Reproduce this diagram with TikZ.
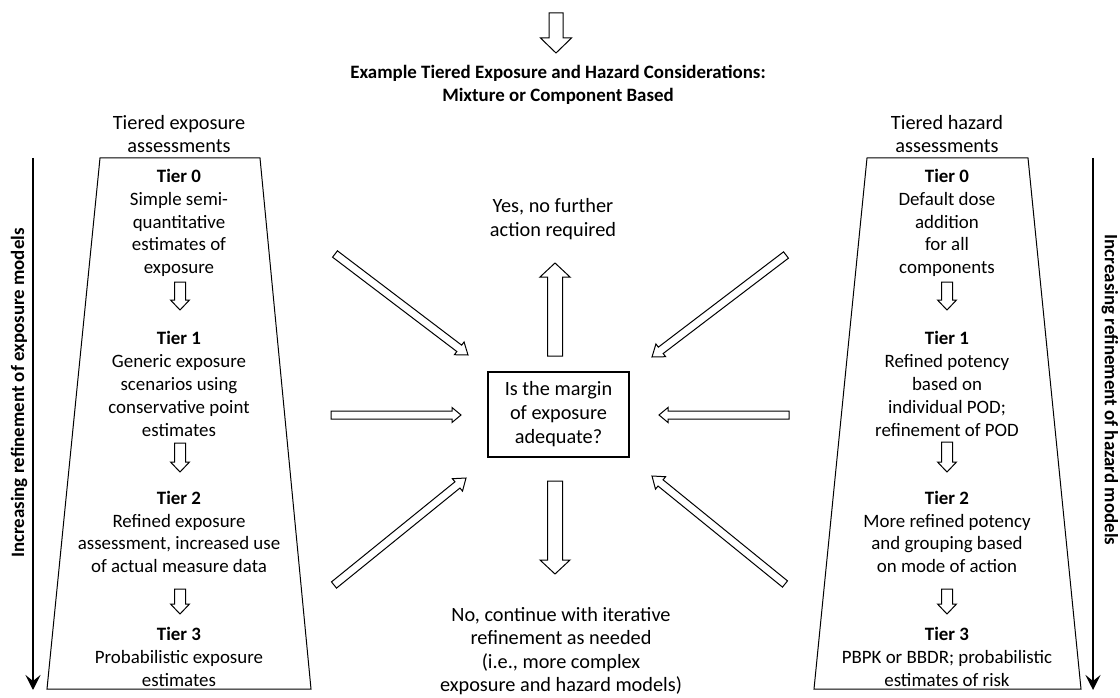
\documentclass[tikz,border=0pt]{standalone}
\usepackage{fontspec}
\setmainfont{Carlito}
\usetikzlibrary{calc,arrows.meta}
\tikzset{
  txt/.style={font=\fontsize{18.9}{22.8}\selectfont, align=center, inner sep=0pt},
  bigtxt/.style={font=\fontsize{20.3}{23.5}\selectfont, align=center, inner sep=0pt},
  ttl/.style={font=\bfseries\fontsize{18.9}{23}\selectfont, align=center, inner sep=0pt},
  sidetxt/.style={font=\bfseries\fontsize{18.9}{23}\selectfont, inner sep=0pt},
  blk/.style={draw=black, line width=1pt, fill=white, line join=miter},
  trap/.style={draw=black, line width=1pt},
  sidearrow/.style={line width=2.8pt, -{Stealth[length=15pt,width=15pt,inset=6pt]}},
  qbox/.style={draw=black, line width=1.3pt, minimum width=141pt, minimum height=85pt, inner sep=0pt, align=center, font=\fontsize{20.3}{24}\selectfont}
}
% #1 from, #2 to, #3 half shaft width, #4 half head width, #5 head length
\newcommand{\blockarrow}[5]{%
  \coordinate (hb) at ($(#2)!#5!(#1)$);
  \draw[blk] ($(#1)!#3!90:(#2)$) -- ($(hb)!#3!90:(#2)$) -- ($(hb)!#4!90:(#2)$) -- (#2)
    -- ($(hb)!#4!-90:(#2)$) -- ($(hb)!#3!-90:(#2)$) -- ($(#1)!#3!-90:(#2)$) -- cycle;
}
\begin{document}
\begin{tikzpicture}[x=1pt,y=-1pt]
\useasboundingbox (0,0) rectangle (1120,698);
\fill[white] (0,0) rectangle (1120,698);

% title and top arrow
\coordinate (t0) at (556,13);
\coordinate (t1) at (556,53);
\blockarrow{t0}{t1}{7pt}{15.5pt}{15pt}
\node[ttl] (title) at (558,84.5) {Example Tiered Exposure and Hazard Considerations:\\Mixture or Component Based};

% headings
\node[bigtxt] (lhead) at (179,134) {Tiered exposure\\assessments};
\node[bigtxt] (rhead) at (947,134) {Tiered hazard\\assessments};

% trapezoids
\coordinate (l1) at (100,158); \coordinate (l2) at (260,158);
\coordinate (l3) at (311,689); \coordinate (l4) at (47,689);
\draw[trap] (l1) -- (l2) -- (l3) -- (l4) -- cycle;
\coordinate (r1) at (867,158); \coordinate (r2) at (1028,158);
\coordinate (r3) at (1081,689); \coordinate (r4) at (814,689);
\draw[trap] (r1) -- (r2) -- (r3) -- (r4) -- cycle;

% side arrows
\coordinate (la0) at (33,158); \coordinate (la1) at (33,690);
\draw[sidearrow] (la0) -- (la1);
\coordinate (ra0) at (1093,158); \coordinate (ra1) at (1093,690);
\draw[sidearrow] (ra0) -- (ra1);
\node[sidetxt, rotate=90] (lside) at (19,393) {Increasing refinement of exposure models};
\node[sidetxt, rotate=-90] (rside) at (1110,390) {Increasing refinement of hazard models};

% left tiers
\node[txt] (le0) at (179,223) {\textbf{Tier 0}\\Simple semi-\\quantitative\\estimates of\\exposure};
\node[txt] (le1) at (179,384) {\textbf{Tier 1}\\Generic exposure\\scenarios using\\conservative point\\estimates};
\node[txt] (le2) at (179,532) {\textbf{Tier 2}\\Refined exposure\\assessment, increased use\\of actual measure data};
\node[txt] (le3) at (179,657) {\textbf{Tier 3}\\Probabilistic exposure\\estimates};
\coordinate (la10) at (180,282); \coordinate (la11) at (180,310);
\blockarrow{la10}{la11}{5.5pt}{9.5pt}{10pt}
\coordinate (la20) at (180,443); \coordinate (la21) at (180,472);
\blockarrow{la20}{la21}{5.5pt}{9.5pt}{10pt}
\coordinate (la30) at (180,589); \coordinate (la31) at (180,614);
\blockarrow{la30}{la31}{5.5pt}{9.5pt}{10pt}

% right tiers
\node[txt] (re0) at (947,223) {\textbf{Tier 0}\\Default dose\\addition\\for all\\components};
\node[txt] (re1) at (947,384) {\textbf{Tier 1}\\Refined potency\\based on\\individual POD;\\refinement of POD};
\node[txt] (re2) at (947,532) {\textbf{Tier 2}\\More refined potency\\and grouping based\\on mode of action};
\node[txt] (re3) at (947,657) {\textbf{Tier 3}\\PBPK or BBDR; probabilistic\\estimates of risk};
\coordinate (ra10) at (947,282); \coordinate (ra11) at (947,310);
\blockarrow{ra10}{ra11}{5.5pt}{9.5pt}{10pt}
\coordinate (ra20) at (947,442); \coordinate (ra21) at (947,472);
\blockarrow{ra20}{ra21}{5.5pt}{9.5pt}{10pt}
\coordinate (ra30) at (947,589); \coordinate (ra31) at (947,614);
\blockarrow{ra30}{ra31}{5.5pt}{9.5pt}{10pt}

% centre
\node[qbox] (q) at (558.5,414.5) {Is the margin\\of exposure\\adequate?};
\node[bigtxt] (yes) at (553,219) {Yes, no further\\action required};
\node[bigtxt] (no) at (561,651) {No, continue with iterative\\refinement as needed\\(i.e., more complex\\exposure and hazard models)};

\coordinate (up0) at (555,356); \coordinate (up1) at (555,263);
\blockarrow{up0}{up1}{7.5pt}{15pt}{14pt}
\coordinate (dn0) at (555,481); \coordinate (dn1) at (555,574);
\blockarrow{dn0}{dn1}{7.5pt}{15pt}{14pt}

\coordinate (hl0) at (331,415); \coordinate (hl1) at (461,415);
\blockarrow{hl0}{hl1}{4pt}{7.5pt}{9pt}
\coordinate (hr0) at (789,415); \coordinate (hr1) at (659,415);
\blockarrow{hr0}{hr1}{4pt}{7.5pt}{9pt}

\coordinate (ul0) at (335,254); \coordinate (ul1) at (468,355);
\blockarrow{ul0}{ul1}{4pt}{8pt}{11pt}
\coordinate (ur0) at (786,255); \coordinate (ur1) at (652,357);
\blockarrow{ur0}{ur1}{4pt}{8pt}{11pt}
\coordinate (dl0) at (334,585); \coordinate (dl1) at (466,478);
\blockarrow{dl0}{dl1}{4pt}{8pt}{11pt}
\coordinate (dr0) at (785,584); \coordinate (dr1) at (652,476);
\blockarrow{dr0}{dr1}{4pt}{8pt}{11pt}
\end{tikzpicture}
\end{document}
